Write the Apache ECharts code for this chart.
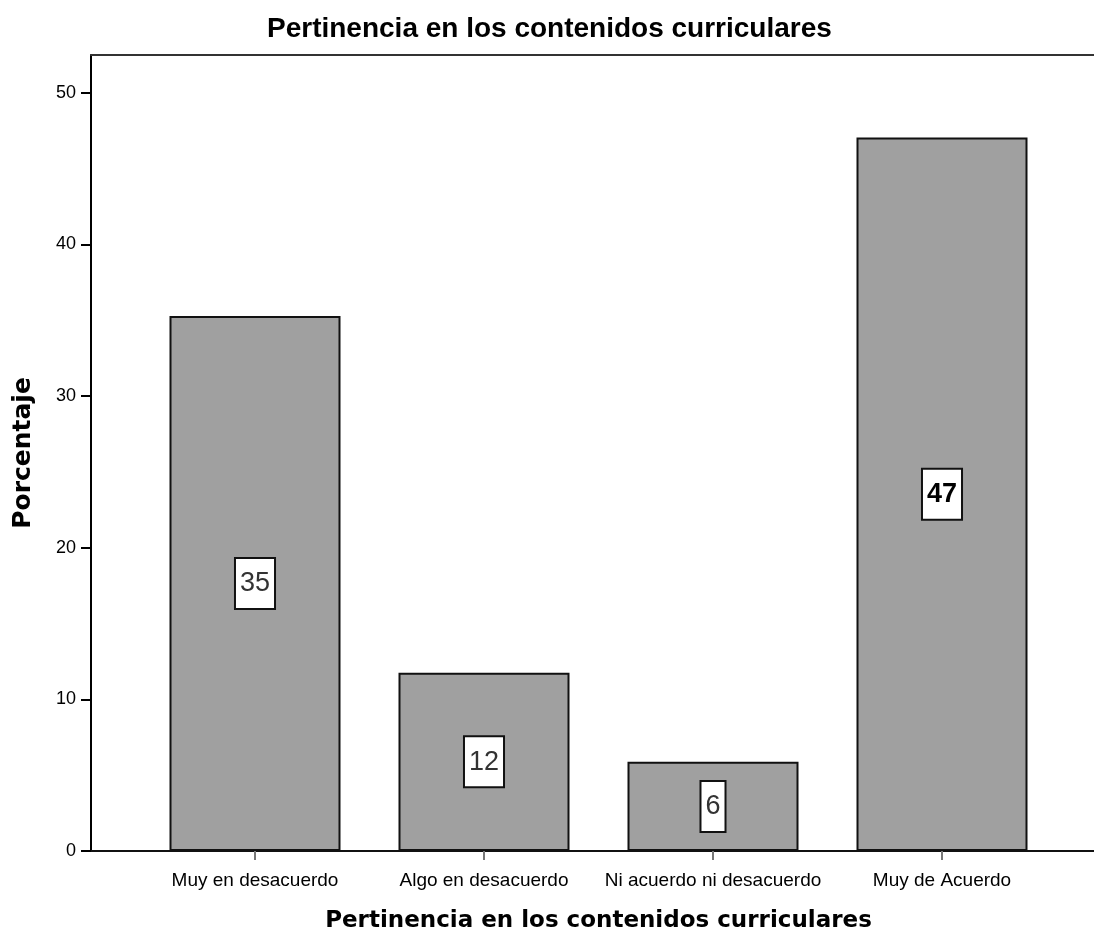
<!DOCTYPE html>
<html>
<head>
<meta charset="utf-8">
<script src="https://cdn.jsdelivr.net/npm/echarts@6/dist/echarts.min.js"></script>
<style>html,body{margin:0;padding:0;background:#fff}#c{width:1094px;height:940px}</style>
</head>
<body>
<div id="c"></div>
<script>
var categories = ['Muy en desacuerdo', 'Algo en desacuerdo', 'Ni acuerdo ni desacuerdo', 'Muy de Acuerdo'];
var percentages = [35.29, 11.76, 5.88, 47.06];
var yTicks = [0, 10, 20, 30, 40, 50];
var chartTitle = 'Pertinencia en los contenidos curriculares';
var xTitle = 'Pertinencia en los contenidos curriculares';
var yTitle = 'Porcentaje';

var YMAX = 52.5;
var chart = echarts.init(document.getElementById('c'), null, {renderer: 'canvas'});
var lastIdx = percentages.length - 1;

chart.setOption({
  animation: false,
  backgroundColor: '#ffffff',
  title: {
    text: chartTitle,
    left: 262,
    top: 10,
    textStyle: {fontFamily: 'Liberation Sans', fontWeight: 'bold', fontSize: 28, color: '#000'}
  },
  grid: [
    {left: 140.5, right: 37.5, top: 55, bottom: 89},
    {left: 91, right: 0, top: 55, bottom: 89}
  ],
  xAxis: [
    {
      type: 'category', gridIndex: 0, data: categories,
      name: xTitle, nameLocation: 'middle', nameGap: 59,
      nameTextStyle: {fontFamily: 'DejaVu Sans', fontWeight: 'bold', fontSize: 23, color: '#000'},
      axisLine: {show: false},
      axisTick: {show: true, alignWithLabel: true, length: 9, lineStyle: {color: '#777', width: 2}},
      axisLabel: {margin: 20, fontFamily: 'Liberation Sans', fontSize: 19, color: '#000', interval: 0}
    },
    {type: 'value', gridIndex: 1, position: 'bottom', min: 0, max: 1,
     axisLine: {show: true, lineStyle: {color: '#111', width: 2}},
     axisTick: {show: false}, axisLabel: {show: false}, splitLine: {show: false}},
    {type: 'value', gridIndex: 1, position: 'top', min: 0, max: 1,
     axisLine: {show: true, lineStyle: {color: '#333', width: 2}},
     axisTick: {show: false}, axisLabel: {show: false}, splitLine: {show: false}}
  ],
  yAxis: [
    {type: 'value', gridIndex: 0, show: false, min: 0, max: YMAX},
    {
      type: 'value', gridIndex: 1, min: 0, max: YMAX, interval: 10,
      name: yTitle, nameLocation: 'middle', nameGap: 55,
      nameTextStyle: {fontFamily: 'DejaVu Sans', fontWeight: 'bold', fontSize: 25, color: '#000'},
      axisLine: {show: true, lineStyle: {color: '#000', width: 2}},
      axisTick: {show: true, length: 10, customValues: yTicks, lineStyle: {color: '#000', width: 2}},
      axisLabel: {margin: 15, customValues: yTicks, fontFamily: 'Liberation Sans', fontSize: 18, color: '#000'},
      splitLine: {show: false}
    }
  ],
  series: [{
    type: 'bar',
    xAxisIndex: 0, yAxisIndex: 0,
    data: percentages,
    barWidth: 171,
    z: 3,
    itemStyle: {color: '#a0a0a0', borderColor: '#111', borderWidth: 2},
    label: {
      show: true,
      position: 'inside',
      formatter: function (p) {
        var v = Math.round(p.value);
        return p.dataIndex === lastIdx ? '{b|' + v + '}' : '{a|' + v + '}';
      },
      backgroundColor: '#fff',
      borderColor: '#111',
      borderWidth: 2,
      padding: [12, 4, 11, 4],
      rich: {
        a: {fontFamily: 'Liberation Sans Narrow, Liberation Sans', fontSize: 27, lineHeight: 26, color: '#333'},
        b: {fontFamily: 'Liberation Sans', fontWeight: 'bold', fontSize: 27, lineHeight: 26, color: '#000'}
      }
    }
  }]
});
</script>
</body>
</html>
